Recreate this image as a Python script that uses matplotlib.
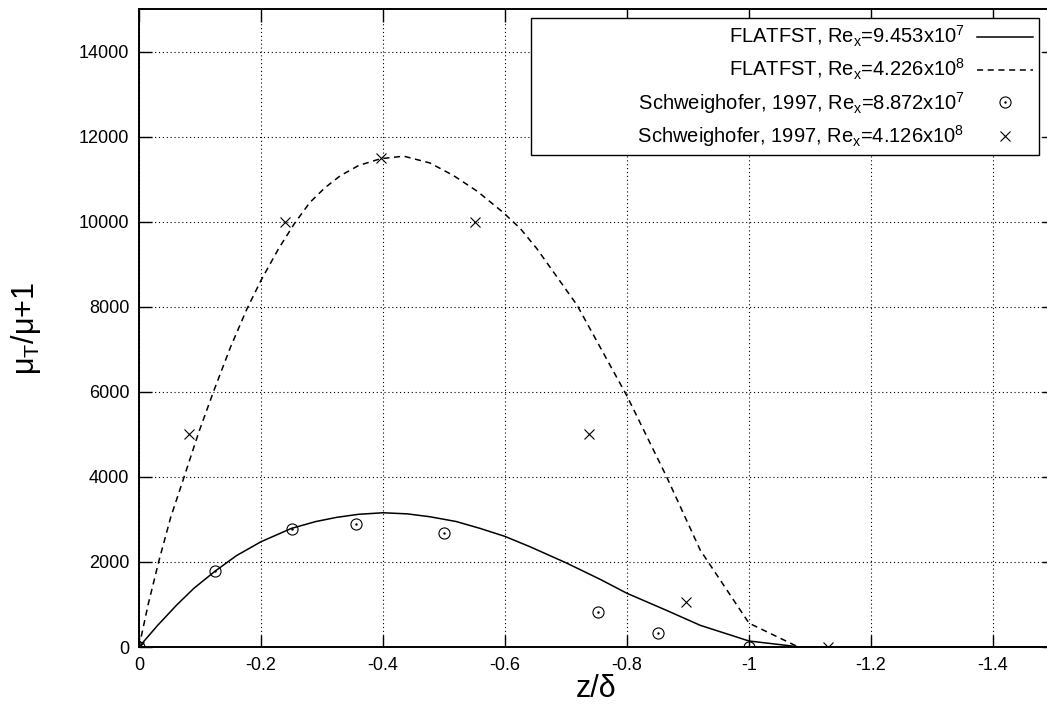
import matplotlib
matplotlib.use("Agg")
import matplotlib.pyplot as plt
from matplotlib.ticker import FormatStrFormatter

plt.rcParams['font.family'] = ['Liberation Sans', 'DejaVu Sans']
plt.rcParams['mathtext.fontset'] = 'custom'
plt.rcParams['mathtext.rm'] = 'Liberation Sans'
plt.rcParams['mathtext.it'] = 'Liberation Sans:italic'
plt.rcParams['axes.unicode_minus'] = False

# --- FLATFST, Re_x = 9.453e7 (solid) ---
flat1_z = [0, -0.03, -0.062, -0.09, -0.125, -0.16, -0.2, -0.25, -0.29, -0.324, -0.36,
           -0.4, -0.44, -0.477, -0.52, -0.559, -0.6, -0.641, -0.7, -0.756, -0.8,
           -0.865, -0.92, -1.0, -1.084, -1.5]
flat1_mu = [0, 500, 990, 1380, 1786, 2150, 2475, 2789, 2950, 3048, 3120,
            3156, 3130, 3062, 2950, 2789, 2600, 2357, 1980, 1591, 1262,
            860, 510, 141, 0, 0]

# --- FLATFST, Re_x = 4.226e8 (dashed) ---
flat2_z = [0, -0.015, -0.033, -0.052, -0.074, -0.098, -0.122, -0.15, -0.177, -0.2,
           -0.229, -0.255, -0.28, -0.305, -0.33, -0.36, -0.396, -0.434, -0.477, -0.516,
           -0.555, -0.5975, -0.625, -0.652, -0.718, -0.8, -0.865, -0.92, -1.0, -1.081, -1.5]
flat2_mu = [0, 1000, 2045, 3050, 4000, 5050, 6000, 7050, 7950, 8620,
            9370, 9960, 10450, 10800, 11080, 11320, 11480, 11540, 11380, 11080,
            10710, 10210, 9840, 9370, 8040, 5900, 4000, 2280, 560, 0, 0]

# --- Schweighofer 1997, Re_x = 8.872e7 (circles) ---
sch1_z = [0, -0.125, -0.25, -0.355, -0.5, -0.753, -0.85, -1.0]
sch1_mu = [0, 1780, 2780, 2900, 2670, 830, 330, 0]

# --- Schweighofer 1997, Re_x = 4.126e8 (crosses) ---
sch2_z = [0, -0.0825, -0.24, -0.396, -0.5515, -0.738, -0.896, -1.129]
sch2_mu = [0, 5000, 10000, 11500, 10000, 5000, 1050, 0]

fig = plt.figure(figsize=(10.47, 7.14), dpi=100)
ax = fig.add_axes([139 / 1047, 67 / 714, 915 / 1047, 638 / 714])

l1, = ax.plot(flat1_z, flat1_mu, color='k', lw=1.1)
l2, = ax.plot(flat2_z, flat2_mu, color='k', lw=1.1, dashes=(4, 3))
c_o, = ax.plot(sch1_z, sch1_mu, ls='none', marker='o', ms=8, mfc='none', mec='k', mew=0.8)
c_d, = ax.plot(sch1_z, sch1_mu, ls='none', marker='.', ms=1.5, color='k')
x_m, = ax.plot(sch2_z, sch2_mu, ls='none', marker='x', ms=7, color='k', mew=0.8)

ax.set_xlim(0, -1.5)
ax.set_ylim(0, 15000)
ax.set_xticks([0, -0.2, -0.4, -0.6, -0.8, -1.0, -1.2, -1.4])
ax.set_yticks(range(0, 15000, 2000))
ax.xaxis.set_major_formatter(FormatStrFormatter('%g'))
ax.tick_params(direction='in', length=9, width=1, top=True, right=True,
               labelsize=13, pad=7)
ax.grid(True, color='k', lw=0.8, linestyle=(0, (1, 2.5)))
for s in ax.spines.values():
    s.set_linewidth(1.4)

ax.set_xlabel('z/δ', fontsize=22, labelpad=0)
ax.set_ylabel('μ$_\\mathrm{T}$/μ+1', fontsize=22, labelpad=26)

pad = ' ' * 18
labels = ['FLATFST, Re$_\\mathrm{x}$=9.453x10$^\\mathrm{7}$',
          'FLATFST, Re$_\\mathrm{x}$=4.226x10$^\\mathrm{8}$',
          pad + 'Schweighofer, 1997, Re$_\\mathrm{x}$=8.872x10$^\\mathrm{7}$',
          pad + 'Schweighofer, 1997, Re$_\\mathrm{x}$=4.126x10$^\\mathrm{8}$']
leg = fig.legend([l1, l2, (c_o, c_d), x_m], labels,
                 loc='upper right', bbox_to_anchor=(1039 / 1047, 1 - 18 / 714),
                 markerfirst=False, fontsize=14.5, handlelength=2.8,
                 handletextpad=0.6, fancybox=False, framealpha=1, edgecolor='k',
                 borderaxespad=0, labelspacing=0.38, borderpad=0.3)
leg.get_frame().set_linewidth(1.0)

fig.savefig('out.png', dpi=100)
